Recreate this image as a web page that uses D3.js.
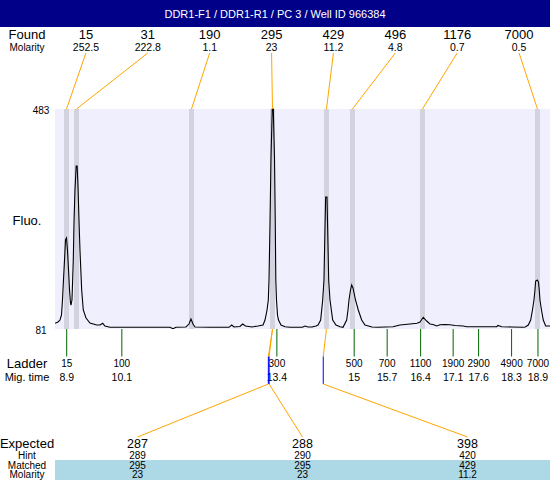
<!DOCTYPE html>
<html><head><meta charset="utf-8">
<script src="https://cdn.jsdelivr.net/npm/d3@7"></script>
<style>
body{margin:0;background:#fff}
svg{display:block;font-family:"Liberation Sans",Arial,sans-serif}
</style>
</head><body>
<svg id="c" width="550" height="480"></svg>
<script>
// ---------- data ----------
const title = "DDR1-F1 / DDR1-R1 / PC 3 / Well ID 966384";
const foundSizes = [15, 31, 190, 295, 429, 496, 1176, 7000];
const foundMolarity = [252.5, 222.8, 1.1, 23, 11.2, 4.8, 0.7, 0.5];
const foundTimes = [8.896, 9.108, 11.548, 13.267, 14.412, 14.964, 16.449, 18.889];
const ladderSizes = [15, 100, 300, 500, 700, 1100, 1900, 2900, 4900, 7000];
const ladderTimes = [8.9, 10.07, 13.36, 15, 15.7, 16.41, 17.1, 17.64, 18.34, 18.9];
const yTicks = [81, 483];
const expected = [287, 288, 398];
const hint = [289, 290, 420];
const matched = [295, 295, 429];
const matchedMolarity = [23, 23, 11.2];
const traceTime = [8.652,8.715,8.758,8.79,8.811,8.832,8.854,8.875,8.896,8.917,8.939,8.96,8.981,8.991,9.012,9.023,9.04,9.055,9.076,9.101,9.122,9.139,9.161,9.182,9.218,9.252,9.31,9.394,9.537,9.607,9.664,9.713,9.819,10.455,11.092,11.155,11.219,11.431,11.495,11.537,11.58,11.622,11.94,12.344,12.401,12.45,12.576,12.634,12.694,12.832,12.959,13.066,13.108,13.151,13.178,13.193,13.214,13.235,13.262,13.284,13.309,13.326,13.337,13.352,13.373,13.394,13.447,13.532,13.638,13.9,13.957,14.02,14.105,14.19,14.233,14.289,14.332,14.359,14.38,14.395,14.423,14.438,14.459,14.487,14.544,14.614,14.699,14.763,14.841,14.869,14.89,14.922,14.947,14.975,15.028,15.087,15.159,15.229,15.378,15.505,15.823,15.972,16.184,16.333,16.396,16.466,16.538,16.608,16.672,16.751,16.821,16.927,17.033,17.139,17.315,17.387,18.024,18.051,18.13,18.342,18.588,18.63,18.694,18.745,18.783,18.815,18.836,18.851,18.885,18.91,18.927,18.942,18.974,19.012,19.063,19.155];
const traceFluo = [91.4,93.8,97.4,106.6,134,170.5,207,243.6,247.3,225,188.6,152.3,128.5,124.8,134,161.4,207,274.7,335,378.8,378.8,344,280,225,152.3,115.7,101.1,91.9,88.3,88.3,91.4,86.5,84.1,84.1,84.1,81.5,84.1,84.7,90.1,99.3,90.1,84.7,84.1,84.1,88.3,84.7,85.6,90.1,86.5,84.7,86.5,88.3,97.4,115.7,134,170.5,274.7,393.4,483,483,393.4,274.7,170.5,134,106.6,97.4,88.3,85.2,84.1,84.1,86.5,84.7,84.7,86.5,88.3,97.4,134,170.5,262,322.2,322.2,262,170.5,134,97.4,88.3,85.2,84.1,97.4,115.7,134,152.3,161.4,156,134,115.7,97.4,88.3,84.7,84.1,85.2,88.3,90.1,91.4,93.8,102.4,95.6,90.1,89.2,86.5,88.8,89.2,88.8,87.4,86.5,85.2,85.2,87.4,85.2,84.7,84.1,84.7,88.3,97.4,115.7,134,152.3,168.7,170.5,167,152.3,134,115.7,97.4,86.5,86.5];

// ---------- layout ----------
const W = 550, H = 480;
const plot = {left: 55, right: 550, top: 109, bottom: 329};
const labelX = 27;
const svg = d3.select("#c");
const fmt1 = d3.format(".1~f");

const x = d3.scaleLinear().domain([8.652, 19.155]).range([plot.left, plot.right]);
const y = d3.scaleLinear().domain([81, 483]).range([plot.bottom, plot.top]);
const foundBand = d3.scaleBand().domain(d3.range(foundSizes.length)).range([plot.left, plot.right]);
const expBand = d3.scaleBand().domain(d3.range(expected.length)).range([plot.left, plot.right]);
const sizeToTime = d3.scaleLinear().domain(ladderSizes).range(ladderTimes);
const fx = i => foundBand(i) + foundBand.bandwidth() / 2;
const ex = i => expBand(i) + expBand.bandwidth() / 2;
const sizeX = s => x(foundTimes[foundSizes.indexOf(s)]);

const orange = "#FFA500", green = "#006400", blue = "#0000FF";

// title bar
svg.append("rect").attr("x", 0).attr("y", 0).attr("width", W).attr("height", 27).attr("fill", "#000088");
svg.append("text").attr("x", W / 2).attr("y", 17.5).attr("text-anchor", "middle")
  .attr("fill", "#fff").attr("font-size", 11).text(title);

// found row
svg.append("text").attr("x", labelX).attr("y", 39).attr("text-anchor", "middle").attr("font-size", 13).text("Found");
svg.append("text").attr("x", labelX).attr("y", 50.5).attr("text-anchor", "middle").attr("font-size", 10).text("Molarity");
svg.selectAll(".fs").data(foundSizes).join("text")
  .attr("x", (d, i) => fx(i)).attr("y", 39).attr("text-anchor", "middle").attr("font-size", 13).text(d => d);
svg.selectAll(".fm").data(foundMolarity).join("text")
  .attr("x", (d, i) => fx(i)).attr("y", 50.5).attr("text-anchor", "middle").attr("font-size", 10.5).text(d => d);

// plot background
svg.append("rect").attr("x", plot.left).attr("y", plot.top)
  .attr("width", plot.right - plot.left).attr("height", plot.bottom - plot.top).attr("fill", "#EFEFFD");

// peak stripes
svg.selectAll(".stripe").data(foundTimes).join("rect")
  .attr("x", d => x(d) - 2.5).attr("y", plot.top).attr("width", 5)
  .attr("height", plot.bottom - plot.top).attr("fill", "#D3D3E0");

// trace
svg.append("clipPath").attr("id", "clip").append("rect")
  .attr("x", plot.left).attr("y", plot.top - 1).attr("width", plot.right - plot.left).attr("height", plot.bottom - plot.top + 1);
const pts = traceTime.map((t, i) => [t, traceFluo[i]]);
svg.append("path").datum(pts).attr("clip-path", "url(#clip)")
  .attr("d", d3.line().x(d => x(d[0])).y(d => y(d[1])))
  .attr("fill", "none").attr("stroke", "#000").attr("stroke-width", 1.1);

// orange connectors from found labels to stripes
svg.selectAll(".fl").data(foundTimes).join("line")
  .attr("x1", (d, i) => fx(i)).attr("y1", 53).attr("x2", d => x(d)).attr("y2", plot.top)
  .attr("stroke", orange).attr("stroke-width", 1);

// y labels
svg.selectAll(".yt").data(yTicks).join("text")
  .attr("x", 41).attr("y", d => y(d) + 5).attr("text-anchor", "middle").attr("font-size", 10).text(d => d);
svg.append("text").attr("x", labelX).attr("y", 225).attr("text-anchor", "middle").attr("font-size", 13).text("Fluo.");

// ladder
svg.selectAll(".lg").data(ladderTimes).join("line")
  .attr("x1", d => x(d)).attr("x2", d => x(d)).attr("y1", plot.bottom).attr("y2", 356.5)
  .attr("stroke", green).attr("stroke-width", 1);
svg.append("text").attr("x", labelX).attr("y", 367.5).attr("text-anchor", "middle").attr("font-size", 13).text("Ladder");
svg.append("text").attr("x", labelX).attr("y", 381).attr("text-anchor", "middle").attr("font-size", 11).text("Mig. time");
svg.selectAll(".ls").data(ladderSizes).join("text")
  .attr("x", (d, i) => x(ladderTimes[i])).attr("y", 367).attr("text-anchor", "middle").attr("font-size", 10).text(d => d);
svg.selectAll(".lt").data(ladderTimes).join("text")
  .attr("x", d => x(d)).attr("y", 381).attr("text-anchor", "middle").attr("font-size", 10.5).text(d => fmt1(d));

// matched connectors
const hx = i => x(sizeToTime(hint[i]));
expected.forEach((e, i) => {
  svg.append("line").attr("x1", sizeX(matched[i])).attr("y1", plot.bottom)
    .attr("x2", hx(i)).attr("y2", 356.5).attr("stroke", orange);
  svg.append("line").attr("x1", hx(i)).attr("x2", hx(i)).attr("y1", 356.5).attr("y2", 384)
    .attr("stroke", blue).attr("stroke-width", 1);
  svg.append("line").attr("x1", hx(i)).attr("y1", 384).attr("x2", ex(i)).attr("y2", 437)
    .attr("stroke", orange);
});

// bottom table
svg.append("rect").attr("x", plot.left).attr("y", 460).attr("width", plot.right - plot.left).attr("height", 20).attr("fill", "#ADD8E6");
const rows = [
  {label: "Expected", vals: expected, y: 447.5, ls: 13, vs: 12.5},
  {label: "Hint", vals: hint, y: 458.5, ls: 10, vs: 10},
  {label: "Matched", vals: matched, y: 468.5, ls: 10, vs: 10},
  {label: "Molarity", vals: matchedMolarity, y: 478, ls: 10, vs: 10}
];
rows.forEach(r => {
  svg.append("text").attr("x", labelX).attr("y", r.y).attr("text-anchor", "middle").attr("font-size", r.ls).text(r.label);
  svg.selectAll(null).data(r.vals).join("text")
    .attr("x", (d, i) => ex(i)).attr("y", r.y).attr("text-anchor", "middle").attr("font-size", r.vs).text(d => d);
});
</script>
</body></html>
